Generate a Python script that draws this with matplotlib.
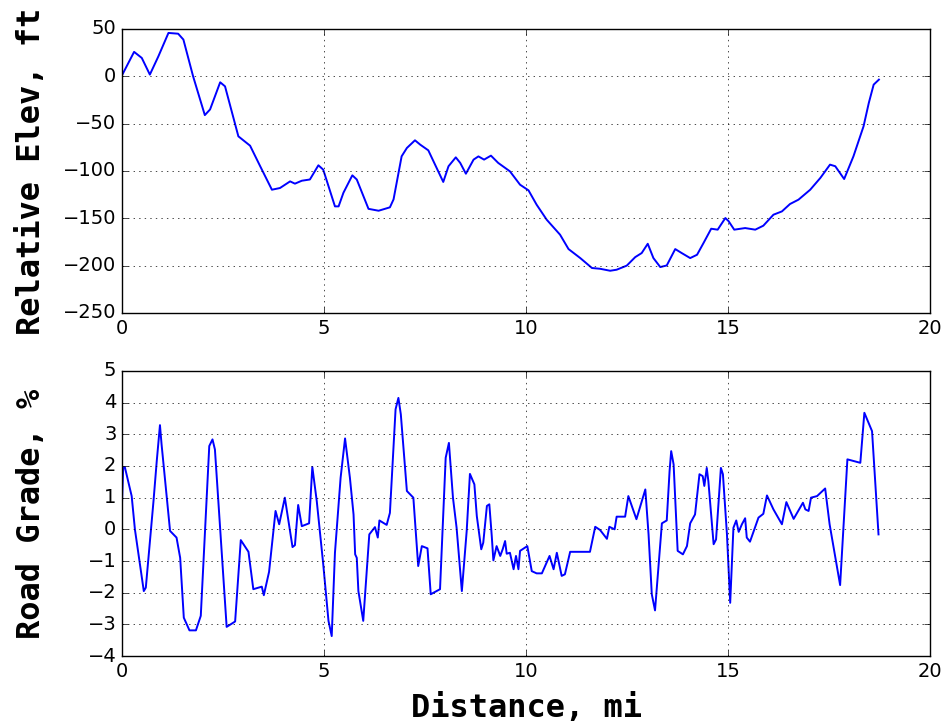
import matplotlib
matplotlib.use('Agg')
import matplotlib.pyplot as plt

# Elevation profile (mi, ft)
elev_dist = [0.0, 0.30, 0.49, 0.69, 0.90, 1.15, 1.39, 1.52, 1.76, 2.05, 2.18, 2.43, 2.55,
             2.88, 3.17, 3.42, 3.71, 3.91, 4.16, 4.28, 4.45, 4.65, 4.86, 4.98, 5.27, 5.36,
             5.48, 5.70, 5.81, 6.10, 6.35, 6.63, 6.72, 6.92, 7.05, 7.25, 7.38, 7.58, 7.95,
             8.08, 8.26, 8.37, 8.51, 8.70, 8.82, 8.96, 9.13, 9.31, 9.60, 9.85, 10.06, 10.26,
             10.51, 10.84, 11.05, 11.34, 11.63, 11.83, 12.08, 12.24, 12.49, 12.70, 12.86,
             13.01, 13.15, 13.32, 13.48, 13.69, 13.85, 14.06, 14.23, 14.39, 14.58, 14.74,
             14.93, 15.01, 15.15, 15.42, 15.67, 15.87, 16.12, 16.33, 16.53, 16.74, 17.03,
             17.28, 17.52, 17.65, 17.87, 18.10, 18.35, 18.48, 18.60, 18.73]
elev_ft = [1, 25.8, 19.4, 1.8, 21, 45.8, 45, 38.8, 0, -41, -35, -6.3, -10.6,
           -63.4, -73.3, -95, -119.8, -118, -111, -113.4, -110.3, -109, -94, -98.6, -137.4, -137.4,
           -123, -104.6, -109, -140, -142, -138.4, -130, -84.5, -75.7, -67.6, -72.2, -78.2, -111.6,
           -95, -85.6, -91.5, -102.9, -88, -84.6, -88, -83.8, -91.5, -100.4, -114.5, -120.5, -135.6,
           -151.5, -167.3, -182.5, -192, -202.5, -203.3, -205.4, -204.3, -200, -191, -186.7,
           -176.9, -192, -201.5, -199.8, -182.5, -186.7, -192, -188.5, -176.1, -161, -162,
           -149.7, -153, -162, -160.3, -162, -157.8, -146.2, -142.7, -134.9, -130.3, -119.8,
           -107.4, -93.3, -95, -108.5, -84.5, -52.8, -28.1, -8.8, -3.5]

# Road grade (mi, %)
grade_dist = [0.0, 0.03, 0.07, 0.24, 0.32, 0.54, 0.59, 0.78, 0.86, 0.94, 0.98, 1.19, 1.35,
              1.44, 1.53, 1.67, 1.83, 1.95, 2.16, 2.24, 2.30, 2.59, 2.80, 2.94, 3.13, 3.25,
              3.46, 3.51, 3.64, 3.80, 3.89, 4.03, 4.22, 4.28, 4.36, 4.45, 4.63, 4.71, 4.82,
              4.98, 5.11, 5.19, 5.27, 5.41, 5.52, 5.64, 5.73, 5.77, 5.81, 5.85, 5.97, 6.12,
              6.26, 6.33, 6.37, 6.55, 6.63, 6.77, 6.84, 6.90, 7.05, 7.21, 7.33, 7.42, 7.56,
              7.64, 7.87, 8.01, 8.09, 8.19, 8.28, 8.41, 8.53, 8.61, 8.72, 8.78, 8.89, 8.94,
              9.03, 9.09, 9.15, 9.19, 9.27, 9.36, 9.42, 9.48, 9.52, 9.60, 9.69, 9.75, 9.81,
              9.85, 10.03, 10.14, 10.26, 10.39, 10.58, 10.68, 10.76, 10.88, 10.96, 11.09,
              11.58, 11.71, 11.83, 12.00, 12.06, 12.19, 12.24, 12.45, 12.53, 12.73, 12.95,
              13.03, 13.11, 13.19, 13.36, 13.48, 13.55, 13.59, 13.65, 13.75, 13.88, 13.98,
              14.06, 14.18, 14.29, 14.37, 14.41, 14.47, 14.51, 14.64, 14.70, 14.82, 14.87,
              14.97, 15.05, 15.13, 15.20, 15.26, 15.34, 15.42, 15.46, 15.54, 15.75, 15.87,
              15.96, 16.12, 16.33, 16.44, 16.62, 16.85, 16.91, 16.99, 17.05, 17.20, 17.40,
              17.51, 17.77, 17.95, 18.27, 18.37, 18.56, 18.72]
grade_pct = [0.8, 1.94, 1.97, 1.05, 0.0, -1.95, -1.84, 0.89, 2.15, 3.29, 2.68, -0.05, -0.26,
             -0.9, -2.79, -3.19, -3.19, -2.73, 2.63, 2.84, 2.52, -3.08, -2.91, -0.34, -0.71, -1.89,
             -1.81, -2.08, -1.34, 0.58, 0.16, 1.0, -0.56, -0.50, 0.77, 0.10, 0.19, 1.97, 0.89,
             -1.10, -2.89, -3.37, -0.74, 1.63, 2.87, 1.63, 0.47, -0.79, -0.9, -1.95, -2.89, -0.16,
             0.07, -0.26, 0.28, 0.14, 0.52, 3.79, 4.15, 3.63, 1.21, 1.0, -1.16, -0.53, -0.6,
             -2.05, -1.89, 2.26, 2.73, 1.0, 0.05, -1.95, -0.05, 1.75, 1.42, 0.42, -0.63, -0.42,
             0.74, 0.79, -0.21, -0.98, -0.53, -0.84, -0.63, -0.37, -0.77, -0.74, -1.26, -0.84, -1.26,
             -0.68, -0.53, -1.32, -1.39, -1.39, -0.84, -1.26, -0.74, -1.47, -1.42, -0.71,
             -0.71, 0.08, -0.02, -0.30, 0.08, 0.0, 0.40, 0.40, 1.05, 0.32, 1.26,
             -0.16, -2.05, -2.56, 0.19, 0.28, 1.84, 2.47, 2.05, -0.68, -0.79, -0.53,
             0.19, 0.47, 1.74, 1.68, 1.37, 1.94, 1.52, -0.47, -0.32, 1.94, 1.74,
             -0.16, -2.32, 0.05, 0.28, -0.08, 0.16, 0.35, -0.26, -0.39, 0.37, 0.49,
             1.07, 0.63, 0.16, 0.86, 0.33, 0.84, 0.63, 0.58, 1.0, 1.05, 1.29,
             0.16, -1.76, 2.21, 2.10, 3.68, 3.10, -0.16]

plt.style.use('classic')
plt.rcParams['figure.facecolor'] = 'white'
plt.rcParams['savefig.facecolor'] = 'white'

label_font = dict(family='DejaVu Sans Mono', weight='bold', size=23)

fig = plt.figure(figsize=(9.47, 7.26), dpi=100)
ax1 = fig.add_axes([0.1288, 0.5689, 0.8535, 0.3912])
ax2 = fig.add_axes([0.1288, 0.0964, 0.8535, 0.3926])

ax1.plot(elev_dist, elev_ft, color='b', lw=1.4)
ax1.set_xlim(0, 20)
ax1.set_ylim(-250, 50)
ax1.set_ylabel('Relative Elev, ft', fontdict=label_font)
ax1.grid(True)

ax2.plot(grade_dist, grade_pct, color='b', lw=1.4)
ax2.set_xlim(0, 20)
ax2.set_ylim(-4, 5)
ax2.set_ylabel('Road Grade, %', fontdict=label_font)
ax2.set_xlabel('Distance, mi', fontdict=label_font, labelpad=9)
ax2.grid(True)

for ax in (ax1, ax2):
    ax.tick_params(labelsize=14)
    ax.yaxis.set_label_coords(-0.093, 0.5)

fig.savefig('out.png', dpi=100)
